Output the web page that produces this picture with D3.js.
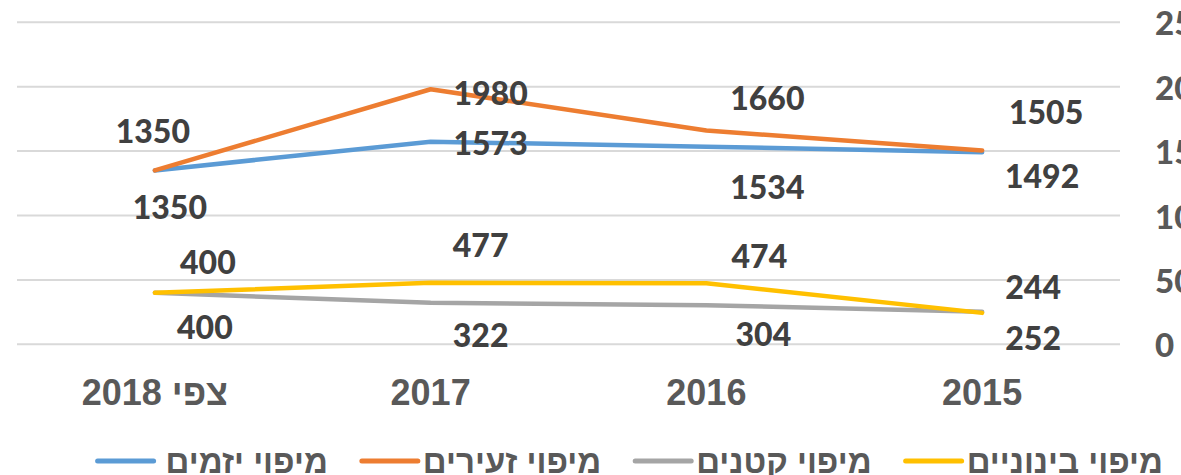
<!DOCTYPE html>
<html>
<head>
<meta charset="utf-8">
<script src="https://cdn.jsdelivr.net/npm/d3@7"></script>
<style>
  body { margin: 0; background: #fff; }
  svg { display: block; }
</style>
</head>
<body>
<svg id="chart"></svg>
<script>
var width = 1181, height = 475;

// categories, left to right as drawn
var years = ["צפי 2018", "2017", "2016", "2015"];

// dx/dy = offset of each data label from its point (px)
var series = [
  { name: "מיפוי יזמים", color: "#5B9BD5",
    values: [1350, 1573, 1534, 1492],
    labels: [[15, 36], [60, 1], [61, 40], [60, 23]] },
  { name: "מיפוי זעירים", color: "#ED7D31",
    values: [1350, 1980, 1660, 1505],
    labels: [[-2, -40], [60, 3], [61, -33], [64, -39]] },
  { name: "מיפוי קטנים", color: "#A5A5A5",
    values: [400, 322, 304, 252],
    labels: [[50, 34], [50, 32], [57, 28], [51, 26]] },
  { name: "מיפוי בינוניים", color: "#FFC000",
    values: [400, 477, 474, 244],
    labels: [[53, -31], [50, -38], [53, -28], [51, -26]] }
];

var plot = { left: 17, right: 1120, top: 22.3, bottom: 344.3 };

var svg = d3.select("#chart")
  .attr("width", width)
  .attr("height", height);

var x = d3.scalePoint()
  .domain(years)
  .range([plot.left, plot.right])
  .padding(0.5);

var y = d3.scaleLinear()
  .domain([0, 2500])
  .range([plot.bottom, plot.top]);

var ticks = d3.range(0, 2501, 500);

// gridlines
svg.append("g")
  .selectAll("line")
  .data(ticks)
  .enter()
  .append("line")
  .attr("x1", plot.left)
  .attr("x2", plot.right)
  .attr("y1", d => y(d))
  .attr("y2", d => y(d))
  .attr("stroke", "#D9D9D9")
  .attr("stroke-width", 2);

// y tick labels on the right (cut off by the window edge, as in the original)
svg.append("g")
  .selectAll("text")
  .data(ticks)
  .enter()
  .append("text")
  .attr("x", 1155)
  .attr("y", d => y(d))
  .attr("dominant-baseline", "central")
  .attr("fill", "#595959")
  .style("font-family", "Lato, 'Open Sans', sans-serif")
  .style("font-weight", "900")
  .style("font-size", "33px")
  .text(d => d);

// x labels
svg.append("g")
  .selectAll("text")
  .data(years)
  .enter()
  .append("text")
  .attr("x", d => x(d))
  .attr("y", 392)
  .attr("text-anchor", "middle")
  .attr("dominant-baseline", "central")
  .attr("direction", "rtl")
  .attr("fill", "#595959")
  .style("font-family", "'Liberation Sans', Arial, sans-serif")
  .style("font-weight", "700")
  .style("font-size", "36px")
  .text(d => d);

var line = d3.line()
  .x((d, i) => x(years[i]))
  .y(d => y(d));

// lines, later series on top
svg.append("g")
  .selectAll("path")
  .data(series)
  .enter()
  .append("path")
  .attr("d", d => line(d.values))
  .attr("fill", "none")
  .attr("stroke", d => d.color)
  .attr("stroke-width", 4.5)
  .attr("stroke-linejoin", "round")
  .attr("stroke-linecap", "round");

// data labels
series.forEach(function(s) {
  svg.append("g")
    .selectAll("text")
    .data(s.values)
    .enter()
    .append("text")
    .attr("x", (d, i) => x(years[i]) + s.labels[i][0])
    .attr("y", (d, i) => y(d) + s.labels[i][1])
    .attr("text-anchor", "middle")
    .attr("dominant-baseline", "central")
    .attr("fill", "#404040")
    .style("font-family", "Lato, 'Open Sans', sans-serif")
    .style("font-weight", "900")
    .style("font-size", "32px")
    .text(d => d);
});

// legend, laid out right to left
var legend = svg.append("g").attr("class", "legend");
var cursor = 1163;
var legendY = 461;
series.slice().reverse().forEach(function(s, i) {
  var t = legend.append("text")
    .attr("x", cursor)
    .attr("y", legendY)
    .attr("text-anchor", "end")
    .attr("dominant-baseline", "central")
    .attr("fill", "#595959")
    .style("font-family", "'Liberation Sans', Arial, sans-serif")
    .style("font-weight", "700")
    .style("font-size", "33px")
    .text(s.name);
  var w = t.node().getComputedTextLength();
  // last item has a slightly wider gap before its line
  var lineEnd = cursor - w - (i === 3 ? 12 : 5);
  legend.append("line")
    .attr("x1", lineEnd - 56)
    .attr("x2", lineEnd)
    .attr("y1", legendY)
    .attr("y2", legendY)
    .attr("stroke", s.color)
    .attr("stroke-width", 5)
    .attr("stroke-linecap", "round");
  cursor = lineEnd - 56 - 34;
});
</script>
</body>
</html>
